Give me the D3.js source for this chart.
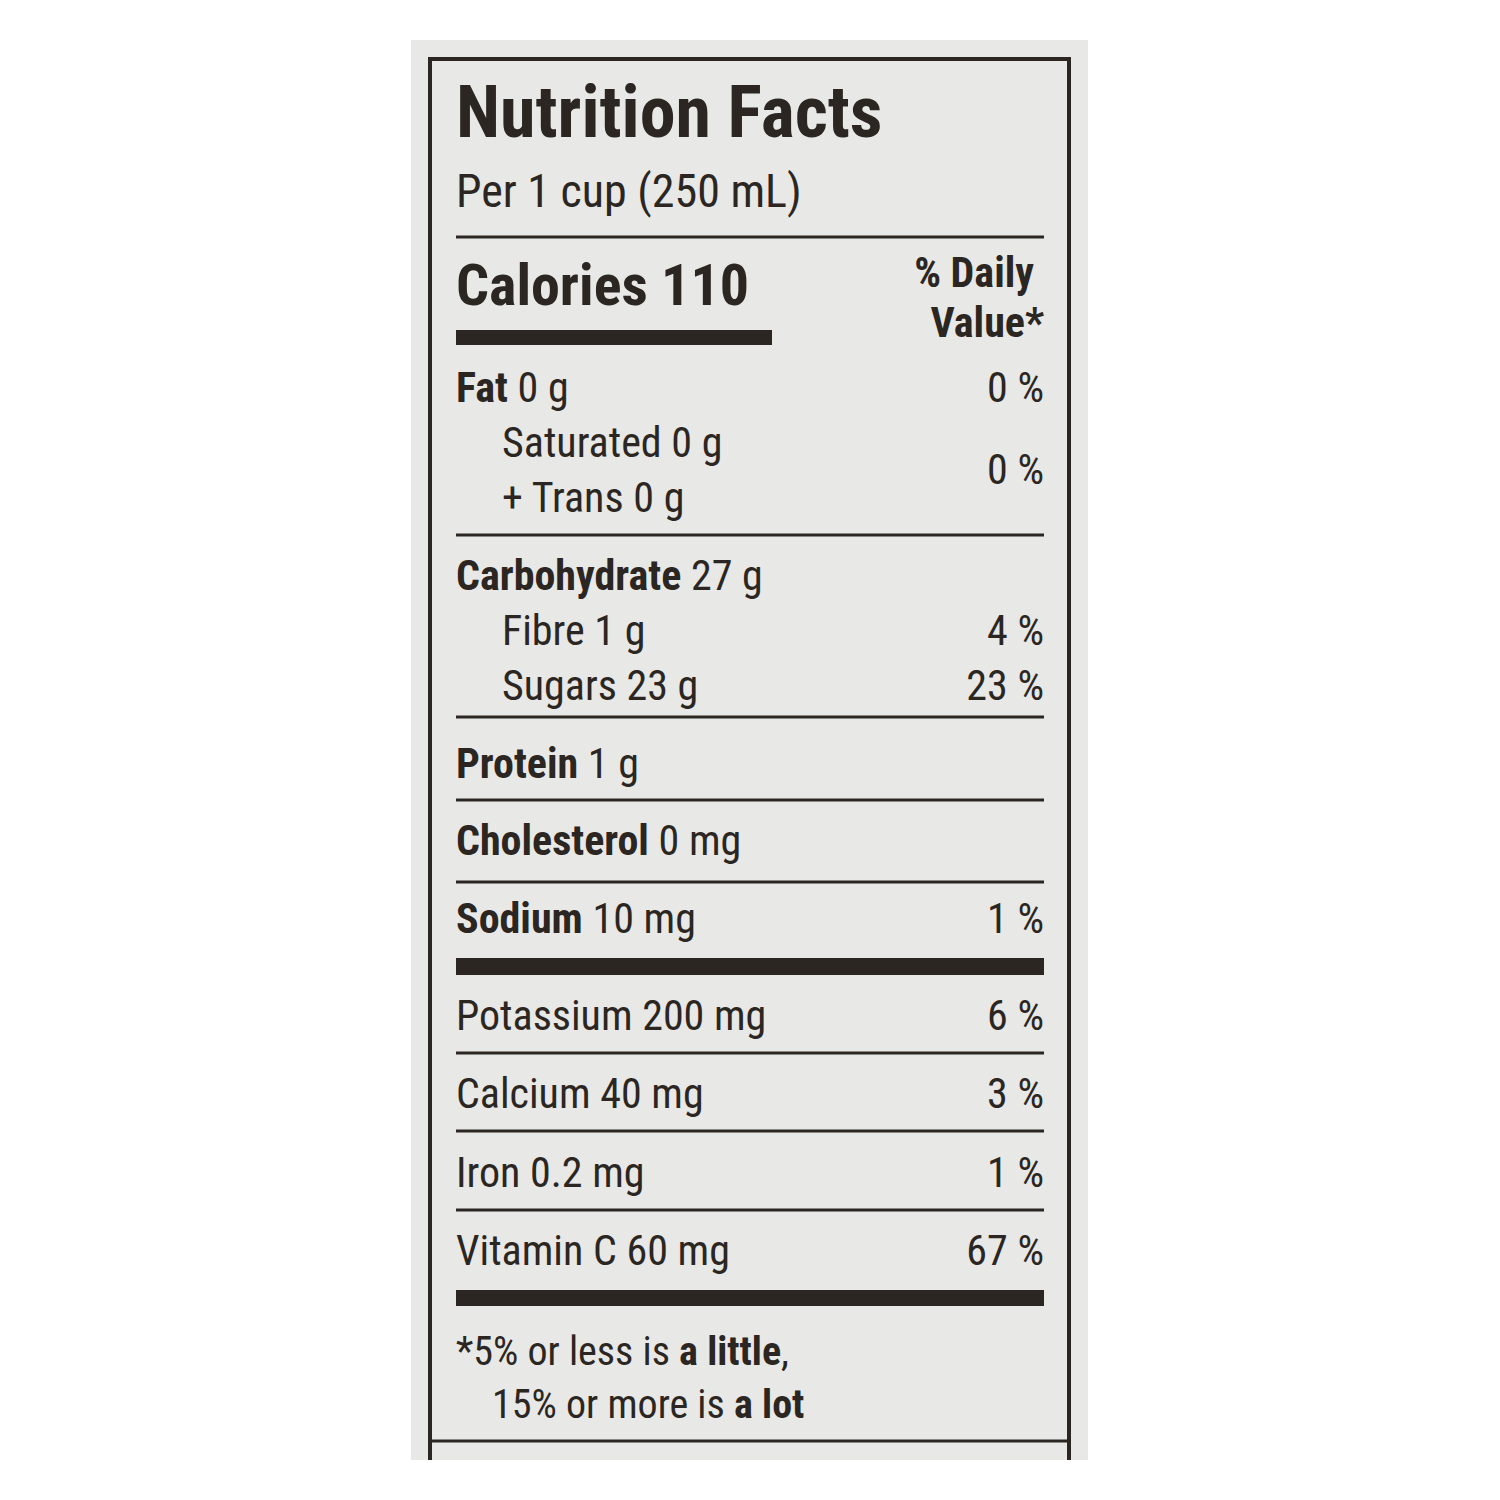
<!DOCTYPE html>
<html><head><meta charset="utf-8">
<script src="https://cdn.jsdelivr.net/npm/d3@7"></script>
<style>body{margin:0;background:#fff}</style>
</head><body><div id="chart"></div>
<script>
// DATA
var nutrients = ["Fat", "Saturated", "+ Trans", "Carbohydrate", "Fibre", "Sugars", "Protein", "Cholesterol", "Sodium", "Potassium", "Calcium", "Iron", "Vitamin C"];
var amounts = ["0 g", "0 g", "0 g", "27 g", "1 g", "23 g", "1 g", "0 mg", "10 mg", "200 mg", "40 mg", "0.2 mg", "60 mg"];
var dailyValues = ["0 %", "", "", "", "4 %", "23 %", "", "", "1 %", "6 %", "3 %", "1 %", "67 %"];
var boldNames = [true, false, false, true, false, false, true, true, true, false, false, false, false];
var indented = [false, true, true, false, true, true, false, false, false, false, false, false, false];
var rowBaselines = [402, 457, 512, 590, 645, 700, 778, 855, 933, 1030, 1108, 1187, 1265];
var thinRules = [237, 535, 717, 800, 882, 1053, 1131, 1210];
var thickRules = [[958, 975], [1290, 1306]];

var ink = "#2b2622";
var font = "'Liberation Sans Narrow', 'Roboto Condensed', 'Arial Narrow', sans-serif";

var svg = d3.select("#chart").append("svg").attr("width", 1500).attr("height", 1500)
  .style("font-family", font).style("font-stretch", "condensed");

svg.append("rect").attr("x", 411).attr("y", 40).attr("width", 677).attr("height", 1420).attr("fill", "#e8e8e6");
svg.append("rect").attr("x", 430).attr("y", 59).attr("width", 639).attr("height", 1420)
  .attr("fill", "none").attr("stroke", ink).attr("stroke-width", 4);
svg.append("line").attr("x1", 432).attr("x2", 1067).attr("y1", 1441).attr("y2", 1441).attr("stroke", ink).attr("stroke-width", 3);
svg.append("rect").attr("x", 0).attr("y", 1460).attr("width", 1500).attr("height", 40).attr("fill", "#fff");

var y = d3.scaleIdentity();
var left = 456, right = 1044;

svg.append("text").attr("x", left).attr("y", 137).attr("font-size", 72).attr("font-weight", "bold").attr("fill", ink).text("Nutrition Facts");
svg.append("text").attr("x", left).attr("y", 207).attr("font-size", 46).attr("fill", ink).text("Per 1 cup (250 mL)");
svg.append("text").attr("x", left).attr("y", 305).attr("font-size", 58).attr("font-weight", "bold").attr("fill", ink).text("Calories 110");
svg.append("text").attr("x", 1034).attr("y", 287).attr("font-size", 42).attr("font-weight", "bold").attr("text-anchor", "end").attr("fill", ink).text("% Daily");
svg.append("text").attr("x", right).attr("y", 337).attr("font-size", 42).attr("font-weight", "bold").attr("text-anchor", "end").attr("fill", ink).text("Value*");
svg.append("rect").attr("x", left).attr("y", 330).attr("width", 316).attr("height", 15).attr("fill", ink);

svg.selectAll(".thin").data(thinRules).enter().append("rect")
  .attr("x", left).attr("width", right - left).attr("y", function (d) { return y(d) - 1.5; }).attr("height", 3).attr("fill", ink);
svg.selectAll(".thick").data(thickRules).enter().append("rect")
  .attr("x", left).attr("width", right - left).attr("y", function (d) { return y(d[0]); })
  .attr("height", function (d) { return d[1] - d[0]; }).attr("fill", ink);

var rows = svg.selectAll(".row").data(nutrients).enter().append("text")
  .attr("x", function (d, i) { return indented[i] ? 502 : left; })
  .attr("y", function (d, i) { return y(rowBaselines[i]); })
  .attr("font-size", 42).attr("fill", ink);
rows.append("tspan").attr("font-weight", function (d, i) { return boldNames[i] ? "bold" : "normal"; }).text(function (d) { return d; });
rows.append("tspan").text(function (d, i) { return " " + amounts[i]; });

svg.selectAll(".dv").data(dailyValues).enter().append("text")
  .attr("x", right).attr("text-anchor", "end").attr("font-size", 42).attr("fill", ink)
  .attr("y", function (d, i) { return y(rowBaselines[i]); }).text(function (d) { return d; });
// Saturated + Trans share one value between their two lines
svg.append("text").attr("x", right).attr("y", 484).attr("text-anchor", "end").attr("font-size", 42).attr("fill", ink).text("0 %");

var f1 = svg.append("text").attr("x", left).attr("y", 1365).attr("font-size", 40).attr("fill", ink);
f1.append("tspan").text("*5% or less is ");
f1.append("tspan").attr("font-weight", "bold").text("a little");
f1.append("tspan").text(",");
var f2 = svg.append("text").attr("x", 492).attr("y", 1418).attr("font-size", 40).attr("fill", ink);
f2.append("tspan").text("15% or more is ");
f2.append("tspan").attr("font-weight", "bold").text("a lot");
</script></body></html>
